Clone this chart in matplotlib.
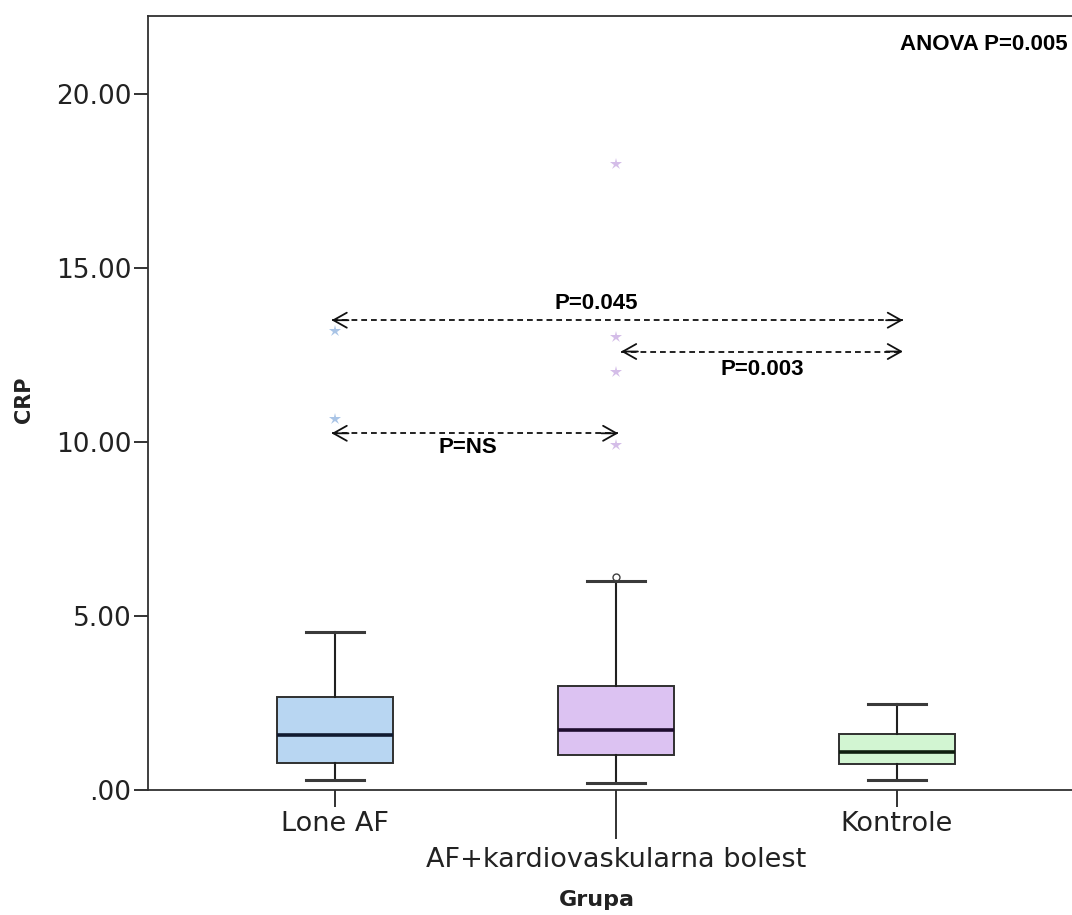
import matplotlib
matplotlib.use("Agg")
import matplotlib.pyplot as plt

# ---- data ----
groups = ["Lone AF", "AF+kardiovaskularna bolest", "Kontrole"]
whisker_low = [0.29, 0.19, 0.29]
q1 = [0.79, 1.00, 0.75]
median = [1.58, 1.72, 1.10]
q3 = [2.68, 2.99, 1.60]
whisker_high = [4.54, 6.00, 2.47]
extremes = [[13.2, 10.65], [18.0, 13.03, 12.02, 9.9], []]
outliers = [[], [6.12], []]
yticks = [0, 5, 10, 15, 20]
ytick_labels = [".00", "5.00", "10.00", "15.00", "20.00"]
comparisons = [("P=0.045", 1, 3), ("P=0.003", 2, 3), ("P=NS", 1, 2)]
anova_text = "ANOVA P=0.005"

box_colors = ["#b8d6f2", "#dcc2f2", "#d2f5d2"]
median_colors = ["#101a30", "#1e0c2e", "#0e1e0e"]
star_colors = ["#a9c4e6", "#d4bde8", "#c8e8c8"]

W, H = 1072, 915
fig = plt.figure(figsize=(W / 100, H / 100), dpi=100)
ax = fig.add_axes([148 / W, (H - 790) / H, (1084 - 148) / W, (790 - 16) / H])

stats = []
for i in range(3):
    stats.append(dict(med=median[i], q1=q1[i], q3=q3[i],
                      whislo=whisker_low[i], whishi=whisker_high[i],
                      fliers=[], label=groups[i]))
positions = [1, 2, 3]
bp = ax.bxp(stats, positions=positions, widths=0.41, patch_artist=True,
            showfliers=False, manage_ticks=False,
            boxprops=dict(linewidth=1.4, edgecolor="#303030"),
            whiskerprops=dict(linewidth=1.5, color="#202020"),
            capprops=dict(linewidth=2.2, color="#3a3a3a"),
            medianprops=dict(linewidth=2.6))
for i, b in enumerate(bp["boxes"]):
    b.set_facecolor(box_colors[i])
for i, m in enumerate(bp["medians"]):
    m.set_color(median_colors[i])
for c in bp["caps"]:
    x = c.get_xdata()
    mid = (x[0] + x[1]) / 2
    c.set_xdata([mid - 0.103, mid + 0.103])

for i, vals in enumerate(extremes):
    if vals:
        ax.plot([positions[i]] * len(vals), vals, linestyle="none", marker="*",
                markersize=9, color=star_colors[i], markeredgewidth=0)
for i, vals in enumerate(outliers):
    if vals:
        ax.plot([positions[i]] * len(vals), vals, linestyle="none", marker="o",
                markersize=5, markerfacecolor="none", markeredgecolor="#404040",
                markeredgewidth=1.0)

ax.set_xlim(1 - 187 / 281, 3 + 187 / 281)
ax.set_ylim(0, 774 / 34.8)

for s in ["left", "bottom", "top", "right"]:
    ax.spines[s].set_linewidth(1.3)
    ax.spines[s].set_color("#303030")

ax.set_yticks(yticks)
ax.set_yticklabels(ytick_labels)
ax.tick_params(axis="y", direction="out", length=10, width=1.3, labelsize=19,
               pad=2, colors="#222222")
ax.set_xticks([1, 3], labels=[groups[0], groups[2]])
ax.set_xticks([2], labels=[groups[1]], minor=True)
ax.tick_params(axis="x", which="major", direction="out", length=12, width=1.3,
               labelsize=19.5, pad=3, colors="#222222")
ax.tick_params(axis="x", which="minor", direction="out", length=35, width=1.3,
               labelsize=19.5, pad=6, colors="#222222")

fig.text(24 / W, 1 - 400 / H, "CRP", rotation=90, ha="center", va="center",
         fontsize=15, fontweight="bold", color="#222222")
fig.text(597 / W, 1 - 900 / H, "Grupa", ha="center", va="center",
         fontsize=16, fontweight="bold", color="#222222")

pfont = dict(family=["Liberation Sans", "DejaVu Sans"], fontweight="bold",
             fontsize=16, color="black")

arrow_y = {"P=0.045": 13.5, "P=0.003": 12.6, "P=NS": 10.25}
text_xy = {"P=0.045": (1.93, 13.99), "P=0.003": (2.52, 12.07), "P=NS": (1.473, 9.83)}
x_left = {1: 0.988, 2: 2.018}
x_right = {2: 2.008, 3: 3.021}
for label, a, b in comparisons:
    y = arrow_y[label]
    xl, xr = x_left[a], x_right[b]
    ax.plot([xl, xr], [y, y], linestyle=(0, (3.2, 2.2)), color="#111111", lw=1.3)
    for tip, back in [(xl, xl + 0.06), (xr, xr - 0.06)]:
        ax.annotate("", xy=(tip, y), xytext=(back, y),
                    arrowprops=dict(arrowstyle="->,head_length=0.8,head_width=0.45",
                                    lw=1.3, color="#111111", shrinkA=0, shrinkB=0,
                                    mutation_scale=12))
    tx, ty = text_xy[label]
    ax.text(tx, ty, label, ha="center", va="center", **pfont)

ax.text(3.011, 21.41, anova_text, ha="left", va="center", **pfont)

fig.savefig("out.png", dpi=100)
